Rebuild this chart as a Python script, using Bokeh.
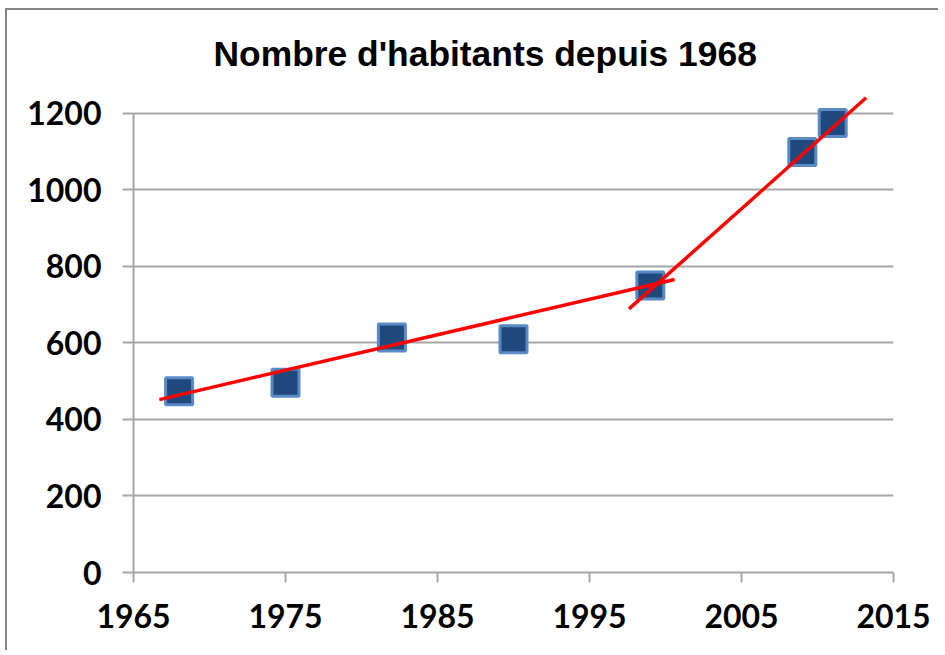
from bokeh.plotting import figure
from bokeh.models import Range1d, FixedTicker
from bokeh.embed import file_html
from bokeh.resources import INLINE

# Data
years = [1968, 1975, 1982, 1990, 1999, 2009, 2011]
habitants = [474, 496, 614, 610, 750, 1099, 1175]

# Hand-drawn trend segments (endpoints)
trend1_years = [1966.7, 2000.6]
trend1_values = [452, 766]
trend2_years = [1997.6, 2013.2]
trend2_values = [689, 1241]

x_ticks = [1965, 1975, 1985, 1995, 2005, 2015]
y_ticks = [0, 200, 400, 600, 800, 1000, 1200]

GRAY = "#a6a6a6"

p = figure(
    frame_width=760, frame_height=482,
    x_range=Range1d(1965, 2015), y_range=Range1d(0, 1260),
    output_backend="svg", toolbar_location=None,
    min_border_left=126, min_border_right=45,
    min_border_top=80, min_border_bottom=78,
    title="Nombre d'habitants depuis 1968",
    styles={"margin-left": "5px", "margin-top": "8px",
            "border-left": "2px solid #868686", "border-top": "2px solid #868686"},
)

p.title.text_font = "Liberation Sans"
p.title.text_font_style = "bold"
p.title.text_font_size = "35.4px"
p.title.text_color = "black"
p.title.align = "left"
p.title.offset = 80
p.title.standoff = 33

p.outline_line_color = None
p.background_fill_color = "white"
p.border_fill_color = "white"

p.xgrid.visible = False
p.ygrid.ticker = FixedTicker(ticks=y_ticks)
p.ygrid.grid_line_color = GRAY
p.ygrid.grid_line_width = 2

for ax in (p.xaxis[0], p.yaxis[0]):
    ax.axis_line_color = GRAY
    ax.axis_line_width = 2
    ax.major_tick_line_color = GRAY
    ax.major_tick_line_width = 2
    ax.major_tick_in = 0
    ax.minor_tick_line_color = None
    ax.major_label_text_font = "Lato"
    ax.major_label_text_font_style = "bold"
    ax.major_label_text_font_size = "32px"
    ax.major_label_text_color = "black"

p.xaxis.ticker = FixedTicker(ticks=x_ticks)
p.xaxis.bounds = (1965, 2015)
p.xaxis.major_tick_out = 10
p.xaxis.major_label_standoff = 21

p.yaxis.ticker = FixedTicker(ticks=y_ticks)
p.yaxis.bounds = (0, 1200)
p.yaxis.major_tick_out = 11
p.yaxis.major_label_standoff = 21

p.scatter(years, habitants, marker="square", size=27,
          fill_color="#1f497d", line_color="#5a8ac6", line_width=3)

p.line(trend1_years, trend1_values, line_color="#ff0000", line_width=3.5)
p.line(trend2_years, trend2_values, line_color="#ff0000", line_width=3.5)

open("out.html", "w").write(file_html(p, INLINE))
